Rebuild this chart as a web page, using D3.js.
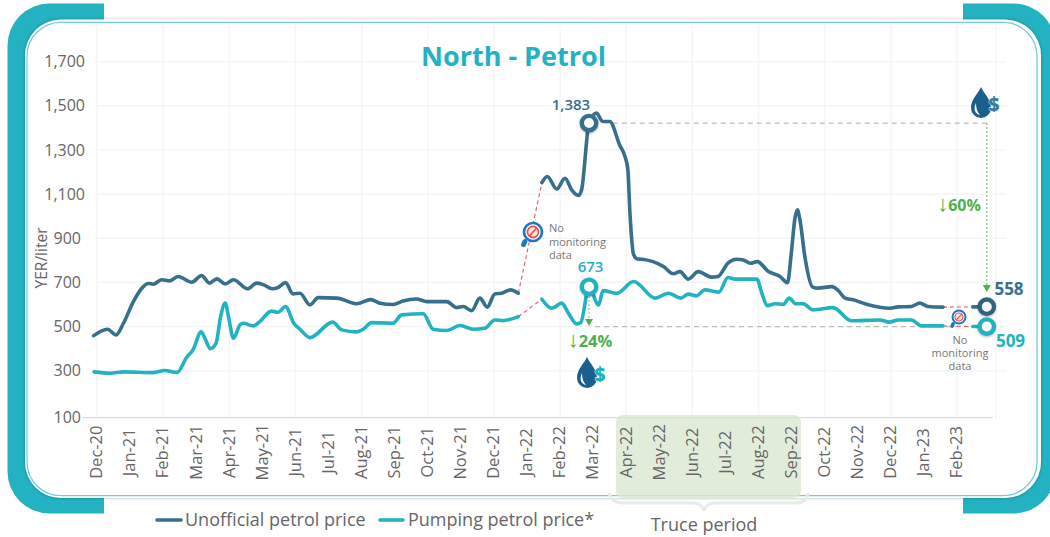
<!DOCTYPE html>
<html>
<head>
<meta charset="utf-8">
<script src="https://cdn.jsdelivr.net/npm/d3@7"></script>
<style>
  html, body { margin: 0; padding: 0; background: #fff; }
  svg { display: block; }
  text { font-family: "Open Sans", sans-serif; }
</style>
</head>
<body>
<div id="chart"></div>
<script>
// Data. Positions are in weeks since Dec-20, null = no monitoring data
const monthLabels = ["Dec-20","Jan-21","Feb-21","Mar-21","Apr-21","May-21","Jun-21","Jul-21","Aug-21","Sep-21","Oct-21","Nov-21","Dec-21","Jan-22","Feb-22","Mar-22","Apr-22","May-22","Jun-22","Jul-22","Aug-22","Sep-22","Oct-22","Nov-22","Dec-22","Jan-23","Feb-23"];
const yTicks = [100, 300, 500, 700, 900, 1100, 1300, 1500, 1700];

const unofficialWeeks = [-0.4,1.25,2.3,3.2,4.4,5.6,6.2,6.8,7.8,8.8,9.8,11.45,12.65,13.6,14.5,15.5,16.5,18.2,19.3,20.1,21.2,21.9,22.8,23.7,24.55,25.75,26.75,29,31.4,33.1,34.2,35.8,37,38.6,39.9,42.3,43.5,44.3,45.3,46.3,47.2,48.1,48.9,50,50.95,52,
  53.8,54.45,55.6,56.6,57.4,58.2,58.6,59.5,60.4,61.15,62,63.2,63.85,64.2,64.45,64.9,65.35,65.9,68.5,69.7,70.5,71.5,72.7,74.3,75.1,76.3,77.35,78.15,79,79.85,81.2,82.6,83.5,84,84.4,84.7,85,85.6,86.55,87.2,88.85,89.65,90.45,91.45,93.05,95.9,96.9,98.5,99.5,100.5,102.3,104,
  105.9,107.6];
const unofficialValues = [459,488,462,515,613,681,695,692,712,707,727,701,731,697,716,693,712,671,697,690,671,677,699,648,651,598,631,629,603,622,606,600,616,625,613,613,586,591,572,629,588,648,651,666,651,null,
  1152,1180,1123,1172,1119,1094,1119,1422,1467,1429,1429,1323,1270,1210,1014,825,806,805,772,739,749,715,749,724,727,787,805,802,787,794,749,727,699,847,990,1029,985,817,679,674,681,663,629,621,601,583,589,591,606,591,588,null,
  589,590];

const pumpingWeeks = [-0.36,1.6,3.2,6.8,8.2,9.7,10.85,11.6,12.6,13.05,13.7,14.4,14.95,15.5,15.9,16.5,17.3,17.7,18.9,19.7,21.1,21.9,22.8,23.8,24.55,25.75,28.5,29.6,31.4,32.2,33.2,35.8,36.85,39.45,40.65,42.3,43.9,45.5,46.9,48.1,49.1,50.95,52,
  53.8,55,56.2,57,58,58.5,59.5,60.65,61.2,62.85,64.9,67.5,69.1,70.6,71.5,72.5,73.5,75.2,76.3,77.15,79.8,80.4,81.05,82,83,83.7,84.5,85.4,86.6,89,91.25,94.7,95.8,96.9,98.5,99.7,102.3,104,
  105.9,107.6];
const pumpingValues = [295,289,295,292,301,293,361,394,476,447,400,425,545,606,545,447,508,515,503,523,570,565,591,515,488,450,520,485,476,488,518,515,553,558,488,482,505,488,492,530,527,545,null,
  624,583,606,561,512,518,680,598,663,651,704,629,651,629,647,639,666,656,722,715,715,651,595,603,601,629,603,603,576,586,526,530,520,530,530,503,503,null,
  500,500];

const peakWeek = 59.5, endWeek = 107.6;
const peakLabels = ["1,383", "673"];
const endLabels = ["558", "509"];
const dropLabels = ["↓", "60%", "24%"];
const legendLabels = ["Unofficial petrol price", "Pumping petrol price*"];

const DARK = "#36708c", TEAL = "#22b2c2", GREEN = "#4fb04f", GREY = "#666";

const svg = d3.select("#chart").append("svg").attr("width", 1050).attr("height", 537);
const defs = svg.append("defs");

const shadow = defs.append("filter").attr("id", "shadow")
  .attr("x", "-5%").attr("y", "-5%").attr("width", "110%").attr("height", "110%");
shadow.append("feDropShadow").attr("dx", 0).attr("dy", 0).attr("stdDeviation", 1.5)
  .attr("flood-color", "#000").attr("flood-opacity", 0.35);

const tabs = defs.append("clipPath").attr("id", "tabs");
tabs.append("rect").attr("x", 0).attr("y", 0).attr("width", 104).attr("height", 537);
tabs.append("rect").attr("x", 963).attr("y", 0).attr("width", 87).attr("height", 537);

// Frame
svg.append("rect").attr("clip-path", "url(#tabs)")
  .attr("x", 7.5).attr("y", 3.5).attr("width", 1048).attr("height", 510).attr("rx", 42)
  .attr("fill", "#22b2c2");
svg.append("rect").attr("x", 25).attr("y", 19.5).attr("width", 1016).attr("height", 478.5).attr("rx", 36)
  .attr("fill", "#fff").attr("filter", "url(#shadow)");
svg.append("rect").attr("x", 27).attr("y", 22.3).attr("width", 1010).attr("height", 473.4).attr("rx", 34)
  .attr("fill", "none").attr("stroke", "#74ccd8").attr("stroke-width", 1.3);

// Scales
const x = d3.scaleLinear().domain([0, 104]).range([97, 957]);
const y = d3.scaleLinear().domain([100, 300, 1700]).range([417.7, 370.7, 61.7]);

// Grid
const grid = svg.append("g").attr("fill", "none").attr("stroke", "#f4f6f6").attr("stroke-width", 1.6);
yTicks.slice(1).forEach(t => {
  grid.append("line").attr("x1", x(0)).attr("x2", 1006).attr("y1", y(t)).attr("y2", y(t));
});
monthLabels.forEach((m, i) => {
  if (i % 2 === 0) grid.append("line").attr("x1", x(i * 4)).attr("x2", x(i * 4)).attr("y1", 25).attr("y2", y(100));
});
grid.append("line").attr("x1", x(endWeek) + 9).attr("x2", x(endWeek) + 9).attr("y1", 25).attr("y2", y(100));

// Truce band, sits over the frame line
svg.append("path")
  .attr("d", "M609,493 Q611,503 624,503 L693,503 Q702,503 704,511 Q706,503 715,503 L795,503 Q807,503 808,493")
  .attr("fill", "none").attr("stroke", "#e8eaea").attr("stroke-width", 3);
svg.append("rect").attr("x", 616).attr("y", 415).attr("width", 185).attr("height", 83).attr("rx", 7)
  .attr("fill", "#d9e8d0").attr("opacity", 0.8);

// Axes
const yAxis = svg.append("g").attr("transform", "translate(85,0)")
  .call(d3.axisLeft(y).tickValues(yTicks).tickFormat(d3.format(",")).tickSize(0).tickPadding(0));
yAxis.select(".domain").remove();
yAxis.selectAll("text").attr("fill", GREY).style("font-size", "16px")
  .attr("x", d => d < 1000 ? -4 : 0);

const xAxis = svg.append("g").attr("transform", `translate(-1,${y(100)})`)
  .call(d3.axisBottom(x).tickValues(monthLabels.map((m, i) => i * 4)).tickFormat(d => monthLabels[d / 4]).tickSize(0));
xAxis.select(".domain").remove();
xAxis.selectAll("text").attr("fill", GREY).style("font-size", "16.5px")
  .attr("text-anchor", "middle").attr("dy", "0.35em").attr("y", 0)
  .attr("transform", "translate(0,34.5) rotate(-90)");
svg.append("line").attr("x1", 82).attr("x2", 993).attr("y1", y(100)).attr("y2", y(100))
  .attr("stroke", "#dcdede").attr("stroke-width", 1.3);

svg.append("text").attr("transform", "translate(47,258) rotate(-90)").attr("text-anchor", "middle")
  .attr("fill", GREY).style("font-size", "15.5px").text("YER/liter");

svg.append("text").attr("x", 513.5).attr("y", 65.5).attr("text-anchor", "middle")
  .attr("fill", TEAL).style("font-size", "27px").style("font-weight", 700).text("North - Petrol");

// Guide lines from the peak values
const peakUnofficial = unofficialValues[unofficialWeeks.indexOf(peakWeek)];
const guides = svg.append("g").attr("fill", "none");
guides.append("line").attr("x1", x(62) + 3).attr("x2", x(endWeek)).attr("y1", y(peakUnofficial)).attr("y2", y(peakUnofficial))
  .attr("stroke", "#bbb").attr("stroke-width", 1.3).attr("stroke-dasharray", "5,4");
guides.append("line").attr("x1", x(peakWeek) + 6).attr("x2", x(endWeek)).attr("y1", y(500)).attr("y2", y(500))
  .attr("stroke", "#bbb").attr("stroke-width", 1.3).attr("stroke-dasharray", "5,4");
guides.append("line").attr("x1", x(endWeek)).attr("x2", x(endWeek)).attr("y1", y(peakUnofficial)).attr("y2", 286)
  .attr("stroke", "#8fd08f").attr("stroke-width", 1.5).attr("stroke-dasharray", "2,2");
guides.append("line").attr("x1", x(peakWeek)).attr("x2", x(peakWeek)).attr("y1", 296).attr("y2", 320)
  .attr("stroke", "#8fd08f").attr("stroke-width", 1.2).attr("stroke-dasharray", "2,2");
const arrowHead = (cx, tip) => svg.append("path")
  .attr("d", `M${cx - 4},${tip - 7} L${cx + 4},${tip - 7} L${cx},${tip} Z`).attr("fill", GREEN);
arrowHead(x(endWeek), 292);
arrowHead(x(peakWeek), 326);

// Dashed red connectors across the gaps in the monitoring
function drawGaps(weeks, values) {
  values.forEach((v, i) => {
    if (v !== null) return;
    svg.append("line")
      .attr("x1", x(weeks[i - 1])).attr("y1", y(values[i - 1]))
      .attr("x2", x(weeks[i + 1])).attr("y2", y(values[i + 1]))
      .attr("stroke", "#f0585a").attr("stroke-width", 1.1).attr("stroke-dasharray", "4,3");
  });
}
drawGaps(unofficialWeeks, unofficialValues);
drawGaps(pumpingWeeks, pumpingValues);

// Series
function drawSeries(weeks, values, color) {
  const line = d3.line()
    .defined(i => values[i] !== null)
    .x(i => x(weeks[i]))
    .y(i => y(values[i]))
    .curve(d3.curveMonotoneX);
  svg.append("path").datum(d3.range(weeks.length)).attr("d", line)
    .attr("fill", "none").attr("stroke", color).attr("stroke-width", 3.6)
    .attr("stroke-linejoin", "round").attr("stroke-linecap", "round");
}
drawSeries(unofficialWeeks, unofficialValues, DARK);
drawSeries(pumpingWeeks, pumpingValues, TEAL);

// Ring markers
function ring(week, value, color) {
  svg.append("circle").attr("cx", x(week)).attr("cy", y(value)).attr("r", 7.2)
    .attr("fill", "#fff").attr("stroke", color).attr("stroke-width", 4.4)
    .style("filter", "drop-shadow(0 1px 1px rgba(0,0,0,0.3))");
}
ring(peakWeek, peakUnofficial, DARK);
ring(peakWeek, pumpingValues[pumpingWeeks.indexOf(peakWeek)], TEAL);
ring(endWeek, unofficialValues[unofficialValues.length - 1], "#2f6480");
ring(endWeek, pumpingValues[pumpingValues.length - 1], TEAL);

function label(tx, ty, str, color, size, anchor) {
  return svg.append("text").attr("x", tx).attr("y", ty).attr("text-anchor", anchor || "middle")
    .attr("fill", color).style("font-size", size + "px").style("font-weight", 600).text(str);
}
label(571, 110, peakLabels[0], DARK, 15);
label(590.5, 272, peakLabels[1], TEAL, 15);
label(1009, 295, endLabels[0], DARK, 17).style("font-weight", 700);
label(1010.5, 347, endLabels[1], TEAL, 17).style("font-weight", 700);

// Percent drops, thin arrow + bold number
function dropText(tx, ty, pct, size) {
  const t = svg.append("text").attr("x", tx).attr("y", ty).attr("text-anchor", "middle")
    .attr("fill", GREEN).style("font-size", size + "px");
  t.append("tspan").style("font-weight", 300).style("font-size", "22px").text(dropLabels[0]);
  t.append("tspan").style("font-weight", 700).text(pct);
}
dropText(959, 211, dropLabels[1], 16);
dropText(590, 347, dropLabels[2], 16.5);

// "No monitoring data" notes with magnifier icon
function magnifier(cx, cy, r) {
  const g = svg.append("g");
  g.append("line").attr("x1", cx - r * 0.9).attr("y1", cy + r * 1.05).attr("x2", cx - r * 1.05).attr("y2", cy + r * 1.4)
    .attr("stroke", "#1b78c2").attr("stroke-width", r * 0.55).attr("stroke-linecap", "round");
  g.append("circle").attr("cx", cx).attr("cy", cy).attr("r", r).attr("fill", "#fff")
    .attr("stroke", "#1b78c2").attr("stroke-width", r * 0.3);
  g.append("circle").attr("cx", cx).attr("cy", cy).attr("r", r * 0.62).attr("fill", "#fbe3e0")
    .attr("stroke", "#ee4d4a").attr("stroke-width", r * 0.18);
  g.append("line").attr("x1", cx - r * 0.4).attr("y1", cy + r * 0.45).attr("x2", cx + r * 0.4).attr("y2", cy - r * 0.45)
    .attr("stroke", "#ee4d4a").attr("stroke-width", r * 0.18);
}
magnifier(533, 232, 9);
magnifier(959, 317, 6.5);

function note(tx, lines, anchor) {
  lines.forEach(l => {
    svg.append("text").attr("x", tx).attr("y", l[0]).attr("text-anchor", anchor)
      .attr("fill", "#777").style("font-size", "11px").text(l[1]);
  });
}
note(549, [[232, "No"], [246, "monitoring"], [259, "data"]], "start");
note(960, [[344, "No"], [357, "monitoring"], [370, "data"]], "middle");

// Oil drop with dollar sign
function dropIcon(cx, top, color, dollar) {
  const g = svg.append("g").attr("transform", `translate(${cx},${top})`);
  g.append("path").attr("d", "M0,0 C3,7 10,12 10,21 A10,10 0 0 1 -10,21 C-10,12 -3,7 0,0 Z").attr("fill", color);
  g.append("path").attr("d", "M-5,16 C-8,22 -6,27 -1,28 C-4,25 -5,21 -5,16 Z").attr("fill", "#fff");
  g.append("text").attr("x", 13).attr("y", 24).attr("text-anchor", "middle").attr("fill", dollar)
    .attr("stroke", "#fff").attr("stroke-width", 0.6).attr("paint-order", "stroke")
    .style("font-size", "19px").style("font-weight", 800).text("$");
}
dropIcon(981, 87, "#1b5f8c", "#3f7b9e");
dropIcon(587, 357, "#1b5f8c", TEAL);

// Legend
const legend = [[157, 181, 185, DARK], [380, 403, 408, TEAL]];
legend.forEach((l, i) => {
  svg.append("line").attr("x1", l[0]).attr("x2", l[1]).attr("y1", 520).attr("y2", 520)
    .attr("stroke", l[3]).attr("stroke-width", 3.6).attr("stroke-linecap", "round");
  svg.append("text").attr("x", l[2]).attr("y", 525.5).attr("fill", GREY)
    .style("font-size", "18px").text(legendLabels[i]);
});
svg.append("text").attr("x", 704).attr("y", 531).attr("text-anchor", "middle").attr("fill", GREY)
  .style("font-size", "18px").text("Truce period");
</script>
</body>
</html>
